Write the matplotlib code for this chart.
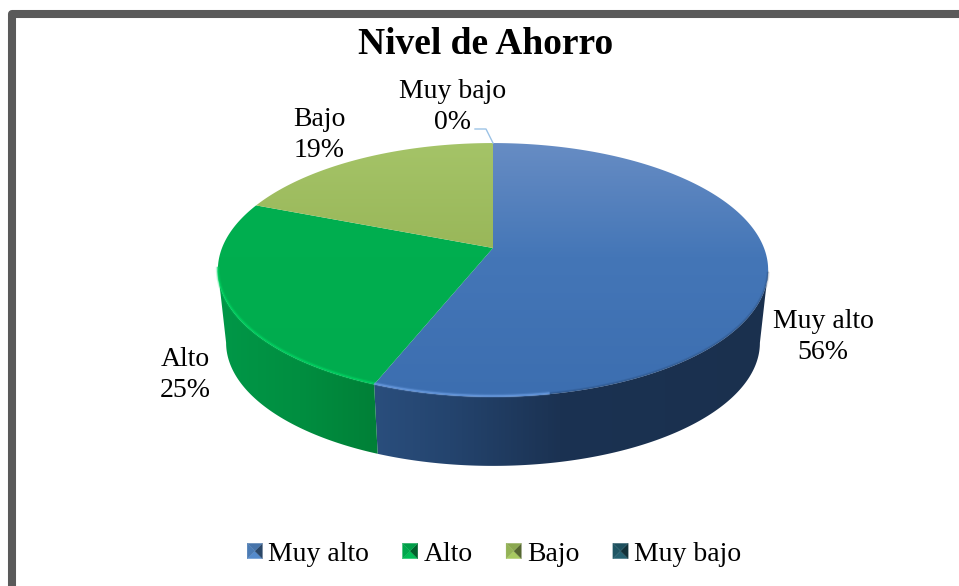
import numpy as np
import matplotlib
matplotlib.use("Agg")
import matplotlib.pyplot as plt
from matplotlib.patches import Polygon
from matplotlib.legend_handler import HandlerBase
from matplotlib.colors import to_rgb

categories = ["Muy alto", "Alto", "Bajo", "Muy bajo"]
values = [56, 25, 19, 0]
title = "Nivel de Ahorro"

plt.rcParams['font.family'] = ['Liberation Serif', 'DejaVu Serif']

W, H = 959, 586
fig = plt.figure(figsize=(W / 100, H / 100), dpi=100)
ax = fig.add_axes([0, 0, 1, 1])
ax.axis('off')

# perspective mapping of the unit disc
CX, AY, A, K, Q = 493, 248, 271, 0.173, -80.2
def rim(th, s=1.0, dy=0.0):
    u = np.cos(th)
    d = 1 + K * u
    x = A * np.sin(th) / d
    y = (AY + Q * u) / d - AY
    return CX + s * x, AY + dy + s * y

def hexc(r, g, b):
    return (r / 255, g / 255, b / 255)

top_grad = {
    "Muy alto": [(104, 141, 196), (68, 118, 183), (60, 110, 176)],
    "Alto": [(0, 176, 80), (0, 174, 79), (0, 172, 78)],
    "Bajo": [(165, 196, 104), (152, 182, 88), (142, 170, 70)],
}
side_stops = {
    "Muy alto": ([375, 450, 560, 770], [(42, 78, 125), (36, 68, 110), (27, 50, 82), (26, 48, 78)]),
    "Alto": ([215, 300, 375], [(0, 152, 72), (0, 142, 64), (0, 128, 55)]),
}
rim_col = {"Muy alto": (110, 160, 230), "Alto": (0, 215, 100)}
rim_range = {"Muy alto": (170, 360), "Alto": (0, 261)}

fr = np.cumsum([0] + values) / sum(values) * 2 * np.pi

# side walls: only the part between the two silhouette points is visible
DY, S = 73.5, 0.97
SIL_R, SIL_L = np.arccos(-K), 2 * np.pi - np.arccos(-K)
for i, c in enumerate(categories):
    if c not in side_stops or values[i] == 0:
        continue
    a0, a1 = max(fr[i], SIL_R), min(fr[i + 1], SIL_L)
    ths = np.linspace(a0, a1, 200)
    x0, y0 = rim(ths)
    x1, y1 = rim(ths, S, DY)
    pts = np.column_stack([np.r_[x0, x1[::-1]], np.r_[y0, y1[::-1]]])
    poly = Polygon(pts, closed=True, fc='none', ec='none', zorder=2)
    ax.add_patch(poly)
    xs, cs = side_stops[c]
    xx = np.linspace(200, 790, 590)
    img = np.stack([np.interp(xx, xs, [k[j] / 255 for k in cs]) for j in range(3)], axis=1)[None, :, :]
    im = ax.imshow(img, extent=(200, 790, 480, 240), aspect='auto', zorder=2, interpolation='bilinear')
    im.set_clip_path(poly)

# top face
for i, c in enumerate(categories):
    if values[i] == 0:
        continue
    ths = np.linspace(fr[i], fr[i + 1], 200)
    xr, yr = rim(ths)
    pts = np.column_stack([np.r_[CX, xr], np.r_[AY, yr]])
    poly = Polygon(pts, closed=True, fc='none', ec='none', zorder=3)
    ax.add_patch(poly)
    g = np.array(top_grad[c]) / 255
    yy = np.linspace(0, 1, 300)
    img = np.stack([np.interp(yy, [0, .45, 1], g[:, j]) for j in range(3)], axis=1)[:, None, :]
    im = ax.imshow(img, extent=(200, 790, 400, 140), aspect='auto', zorder=3, interpolation='bilinear')
    im.set_clip_path(poly)

# soft rim: bright on the lit front-left, dark on the right
for i, c in enumerate(categories):
    if c not in side_stops:
        continue
    lo, hi = rim_range[c]
    a0, a1 = max(fr[i], np.radians(lo)), min(fr[i + 1], np.radians(hi))
    ths = np.linspace(a0, a1, 200)
    xr, yr = rim(ths)
    for lw, al in ((3.0, .18), (1.6, .35), (0.8, .55)):
        ax.plot(xr, yr - 1, color=hexc(*rim_col[c]), lw=lw, alpha=al, zorder=4, solid_capstyle='butt')
ths = np.radians(np.linspace(101, 170, 200))
xr, yr = rim(ths)
for lw, al in ((2.4, .12), (1.2, .2)):
    ax.plot(xr, yr - 0.5, color=hexc(30, 55, 90), lw=lw, alpha=al, zorder=4, solid_capstyle='butt')

# frame
frame_col = '#5a5a5a'
ax.plot([12, 12, W + 10], [H + 10, 14, 14], color=frame_col, lw=5.8, solid_joinstyle='round', zorder=1)

ax.set_xlim(0, W)
ax.set_ylim(H, 0)

# texts
ax.text(485.5, 44, title, ha='center', va='center', fontsize=27, fontweight='bold', color='black', zorder=6)
label_pos = {"Muy alto": (823, 337), "Alto": (185, 375), "Bajo": (319, 135), "Muy bajo": (452.5, 107)}
for c, v in zip(categories, values):
    x, y = label_pos[c]
    ax.text(x, y, f"{c}\n{v}%", ha='center', va='center', fontsize=20, linespacing=1.3, color='black', zorder=6)
ax.plot([475, 486, 493], [129, 129, 143], color='#9dc3e6', lw=1.0, zorder=5)

# legend
marker_cols = {"Muy alto": "#4f81bd", "Alto": "#00b050", "Bajo": "#9bbb59", "Muy bajo": "#215968"}
class Pyramid(HandlerBase):
    def create_artists(self, legend, orig, xd, yd, w, h, fs, trans):
        base = np.array(to_rgb(orig.get_facecolor()))
        s = min(w, fs * 0.55)
        x0, y0 = -xd + (w - s) / 2, -yd + (h - s) / 2
        c = (x0 + s / 2, y0 + s / 2)
        corners = [(x0, y0), (x0 + s, y0), (x0 + s, y0 + s), (x0, y0 + s)]
        shades = [1.08, 0.55, 0.9, 0.95]  # bottom, right, top, left
        arts = []
        for j in range(4):
            col = np.clip(base * shades[j], 0, 1)
            arts.append(Polygon([corners[j], corners[(j + 1) % 4], c], closed=True, fc=col, ec=col,
                                lw=0.2, transform=trans))
        return arts

handles = [Polygon([(0, 0)], fc=marker_cols[c]) for c in categories]
leg = ax.legend(handles, categories, ncol=4, loc='center', bbox_to_anchor=(494 / W, 1 - 554 / H),
                bbox_transform=fig.transFigure, frameon=False, fontsize=20, handlelength=0.56,
                handletextpad=0.2, columnspacing=1.2, borderpad=0, labelspacing=0,
                handler_map={Polygon: Pyramid()})
leg.set_zorder(6)

fig.savefig("out.png", dpi=100, facecolor='white')
